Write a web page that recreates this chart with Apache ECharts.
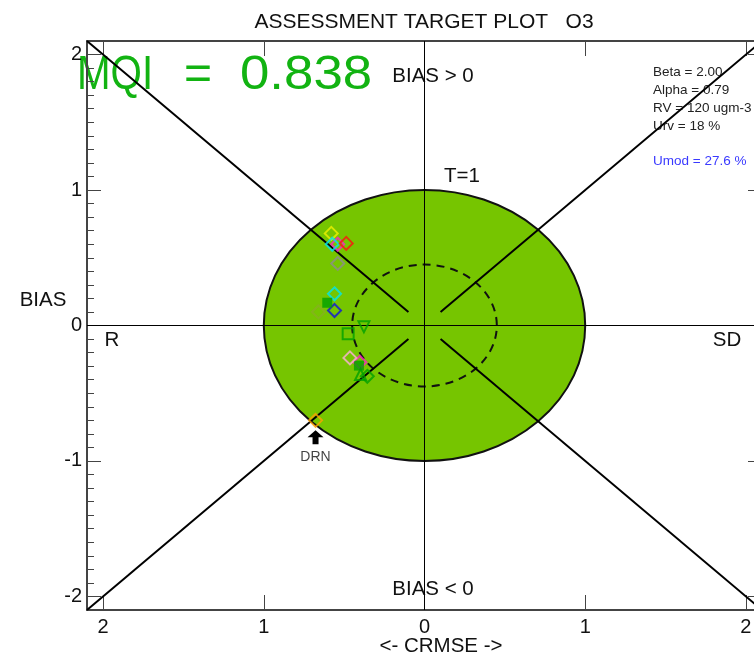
<!DOCTYPE html>
<html>
<head>
<meta charset="utf-8">
<title>Assessment Target Plot O3</title>
<script src="https://cdn.jsdelivr.net/npm/echarts@6/dist/echarts.min.js"></script>
<style>
  html, body { margin: 0; padding: 0; background: #fff; }
  #chart { width: 754px; height: 657px; }
</style>
</head>
<body>
<div id="chart"></div>
<script>
// axis ticks and their labels (x labels show |CRMSE|)
const majorTicks = [-2, -1, 1, 2]
const labelValues = [-2, -1, 0, 1, 2]
const xTickLabels = ['2', '1', '0', '1', '2']
const yTickLabels = ['-2', '-1', '0', '1', '2']

// target radius (T=1) and the inner dashed circle
const targetRadius = [1]
const innerRadius = [0.45]

// corner diagonals and the centre cross
const diagonals = [
  [[-2.1, 2.1], [-0.1, 0.1]],
  [[2.1, 2.1], [0.1, 0.1]],
  [[-2.1, -2.1], [-0.1, -0.1]],
  [[2.1, -2.1], [0.1, -0.1]]
]
const crossLines = [
  [[-2.1, 0], [2.1, 0]],
  [[0, -2.1], [0, 2.1]]
]

// stations [CRMSE (negative = R side), BIAS], grouped by marker
const ptsYellow = [[-0.58, 0.68]]
const ptsMagenta = [[-0.54, 0.60], [-0.402, -0.271]]
const ptsCyan = [[-0.574, 0.60], [-0.56, 0.234]]
const ptsRed = [[-0.487, 0.606]]
const ptsGray = [[-0.54, 0.458]]
const ptsBlue = [[-0.56, 0.111]]
const ptsOlive = [[-0.66, 0.10]]
const ptsGreenFilled = [[-0.605, 0.168], [-0.408, -0.296]]
const ptsGreenSquare = [[-0.475, -0.061]]
const ptsGreenTriDown = [[-0.377, -0.01]]
const ptsGreenTriUp = [[-0.398, -0.362]]
const ptsGreenDiamond = [[-0.356, -0.375]]
const ptsPink = [[-0.464, -0.239]]
const ptsOrange = [[-0.678, -0.70]]
const drnStation = ['DRN']

const infoLines = ['Beta = 2.00', 'Alpha = 0.79', 'RV = 120 ugm-3', 'Urv = 18 %']
const umodText = 'Umod = 27.6 %'
const mqiValue = '0.838'

const FONT = '"Liberation Sans", Arial, sans-serif'

// minor ticks every 0.1 on the left axis
const minorTicks = []
for (let i = -21; i <= 21; i++) {
  if (i % 10 !== 0) minorTicks.push(i / 10)
}

const ellipse = (fill, stroke, dash) => (params, api) => {
  const r = api.value(0)
  const c = api.coord([0, 0])
  const e = api.coord([r, r])
  const rx = e[0] - c[0]
  const ry = c[1] - e[1]
  return {
    type: 'path',
    shape: {
      pathData: `M${c[0] - rx},${c[1]} A${rx},${ry} 0 1,0 ${c[0] + rx},${c[1]} A${rx},${ry} 0 1,0 ${c[0] - rx},${c[1]} Z`
    },
    style: { fill: fill, stroke: stroke, lineWidth: 2, lineDash: dash }
  }
}

const hollow = (name, data, color, symbol, size, rotate) => ({
  name: name,
  type: 'scatter',
  data: data,
  symbol: symbol,
  symbolSize: size,
  symbolRotate: rotate || 0,
  itemStyle: { color: 'rgba(0,0,0,0)', borderColor: color, borderWidth: 2 },
  z: 5,
  silent: true
})

const frameLine = { show: true, onZero: false, lineStyle: { color: '#444', width: 2 } }
const tickStyle = { color: '#444', width: 1 }
const textStyle = (size, color) => ({ font: size + 'px ' + FONT, fill: color || '#111', textVerticalAlign: 'middle' })

const chart = echarts.init(document.getElementById('chart'))
chart.setOption({
  animation: false,
  backgroundColor: '#fff',
  grid: { left: 87, top: 41, width: 675, height: 569, outerBoundsMode: 'none', containLabel: false },
  xAxis: [
    {
      type: 'value', min: -2.1, max: 2.1, position: 'bottom',
      axisLine: frameLine,
      axisTick: { show: true, inside: true, length: 15, customValues: majorTicks, lineStyle: tickStyle },
      axisLabel: {
        customValues: labelValues, margin: 7, fontSize: 20, fontFamily: FONT, color: '#111',
        formatter: v => xTickLabels[labelValues.indexOf(v)]
      },
      splitLine: { show: false }
    },
    {
      type: 'value', min: -2.1, max: 2.1, position: 'top',
      axisLine: frameLine,
      axisTick: { show: true, inside: true, length: 15, customValues: majorTicks, lineStyle: tickStyle },
      axisLabel: { show: false },
      splitLine: { show: false }
    }
  ],
  yAxis: [
    {
      type: 'value', min: -2.1, max: 2.1, position: 'left',
      axisLine: frameLine,
      axisTick: { show: true, inside: true, length: 14, customValues: majorTicks, lineStyle: tickStyle },
      axisLabel: {
        customValues: labelValues, margin: 5, fontSize: 20, fontFamily: FONT, color: '#111',
        formatter: v => yTickLabels[labelValues.indexOf(v)]
      },
      splitLine: { show: false }
    },
    {
      type: 'value', min: -2.1, max: 2.1, position: 'left',
      axisLine: { show: false, onZero: false },
      axisTick: { show: true, inside: true, length: 7, customValues: minorTicks, lineStyle: tickStyle },
      axisLabel: { show: false },
      splitLine: { show: false }
    },
    {
      type: 'value', min: -2.1, max: 2.1, position: 'right',
      axisLine: frameLine,
      axisTick: { show: true, inside: true, length: 14, customValues: majorTicks, lineStyle: tickStyle },
      axisLabel: { show: false },
      splitLine: { show: false }
    }
  ],
  series: [
    {
      type: 'custom', name: 'target', data: targetRadius.map(r => [r]),
      renderItem: ellipse('#76c500', '#111', null), z: 1, silent: true
    },
    {
      type: 'custom', name: 'inner', data: innerRadius.map(r => [r]),
      renderItem: ellipse(null, '#111', [8, 6]), z: 2, silent: true
    },
    {
      type: 'lines', coordinateSystem: 'cartesian2d', name: 'diagonals',
      data: diagonals.map(c => ({ coords: c })),
      lineStyle: { color: '#000', width: 2, opacity: 1 }, z: 3, silent: true
    },
    {
      type: 'lines', coordinateSystem: 'cartesian2d', name: 'cross',
      data: crossLines.map(c => ({ coords: c })),
      lineStyle: { color: '#000', width: 1, opacity: 1 }, z: 3, silent: true
    },
    hollow('yellow', ptsYellow, '#f0f000', 'diamond', 13),
    hollow('magenta', ptsMagenta, '#ff1fc8', 'diamond', 13),
    hollow('cyan', ptsCyan, '#00e5f0', 'diamond', 13),
    hollow('red', ptsRed, '#ff1010', 'diamond', 13),
    hollow('gray', ptsGray, '#8c8c8c', 'diamond', 13),
    hollow('blue', ptsBlue, '#1010e0', 'diamond', 13),
    hollow('olive', ptsOlive, '#86b020', 'diamond', 13),
    {
      name: 'green filled', type: 'scatter', data: ptsGreenFilled, symbol: 'rect', symbolSize: 10,
      itemStyle: { color: '#00a000' }, z: 5, silent: true
    },
    hollow('green square', ptsGreenSquare, '#00a000', 'rect', 11),
    hollow('green tri down', ptsGreenTriDown, '#00a000', 'triangle', 11, 180),
    hollow('green tri up', ptsGreenTriUp, '#00a000', 'triangle', 11),
    hollow('green diamond', ptsGreenDiamond, '#00a000', 'diamond', 13),
    hollow('pink', ptsPink, '#ffb0d8', 'diamond', 13),
    hollow('orange', ptsOrange, '#ffa000', 'diamond', 13),
    {
      name: 'DRN arrow', type: 'scatter', data: ptsOrange,
      symbol: 'path://M8,0 L16,7 L11,7 L11,14 L5,14 L5,7 L0,7 Z',
      symbolSize: [16, 14], symbolOffset: [0, 17],
      itemStyle: { color: '#000', opacity: 1 }, z: 6, silent: true
    },
    {
      name: 'DRN label', type: 'scatter', data: ptsOrange, symbolSize: 1,
      itemStyle: { color: 'rgba(0,0,0,0)' },
      label: {
        show: true, position: 'inside', offset: [0, 37],
        formatter: () => drnStation[0], fontSize: 14, fontFamily: FONT, color: '#111'
      },
      z: 6, silent: true
    }
  ],
  graphic: [
    { type: 'text', x: 424, y: 22, style: Object.assign(textStyle(21), { text: 'ASSESSMENT TARGET PLOT   O3', textAlign: 'center' }) },
    { type: 'text', x: 77, y: 76, scaleX: 0.84, style: Object.assign(textStyle(48, '#12b312'), { text: 'MQI' }) },
    { type: 'text', x: 198, y: 76, style: Object.assign(textStyle(48, '#12b312'), { text: '=', textAlign: 'center' }) },
    { type: 'text', x: 240, y: 76, scaleX: 1.1, style: Object.assign(textStyle(48, '#12b312'), { text: mqiValue }) },
    { type: 'text', x: 433, y: 76, style: Object.assign(textStyle(20.5), { text: 'BIAS > 0', textAlign: 'center' }) },
    { type: 'text', x: 433, y: 589, style: Object.assign(textStyle(20.5), { text: 'BIAS < 0', textAlign: 'center' }) },
    { type: 'text', x: 462, y: 176, style: Object.assign(textStyle(20.5), { text: 'T=1', textAlign: 'center' }) },
    { type: 'text', x: 112, y: 340, style: Object.assign(textStyle(20.5), { text: 'R', textAlign: 'center' }) },
    { type: 'text', x: 727, y: 340, style: Object.assign(textStyle(20.5), { text: 'SD', textAlign: 'center' }) },
    { type: 'text', x: 43, y: 300, style: Object.assign(textStyle(20.5), { text: 'BIAS', textAlign: 'center' }) },
    { type: 'text', x: 441, y: 646, style: Object.assign(textStyle(20.5), { text: '<- CRMSE ->', textAlign: 'center' }) },
    ...infoLines.map((t, i) => ({
      type: 'text', x: 653, y: 72 + i * 18,
      style: Object.assign(textStyle(13.5, '#222'), { text: t })
    })),
    { type: 'text', x: 653, y: 161, style: Object.assign(textStyle(13.5, '#3a3aff'), { text: umodText }) }
  ]
})
</script>
</body>
</html>
